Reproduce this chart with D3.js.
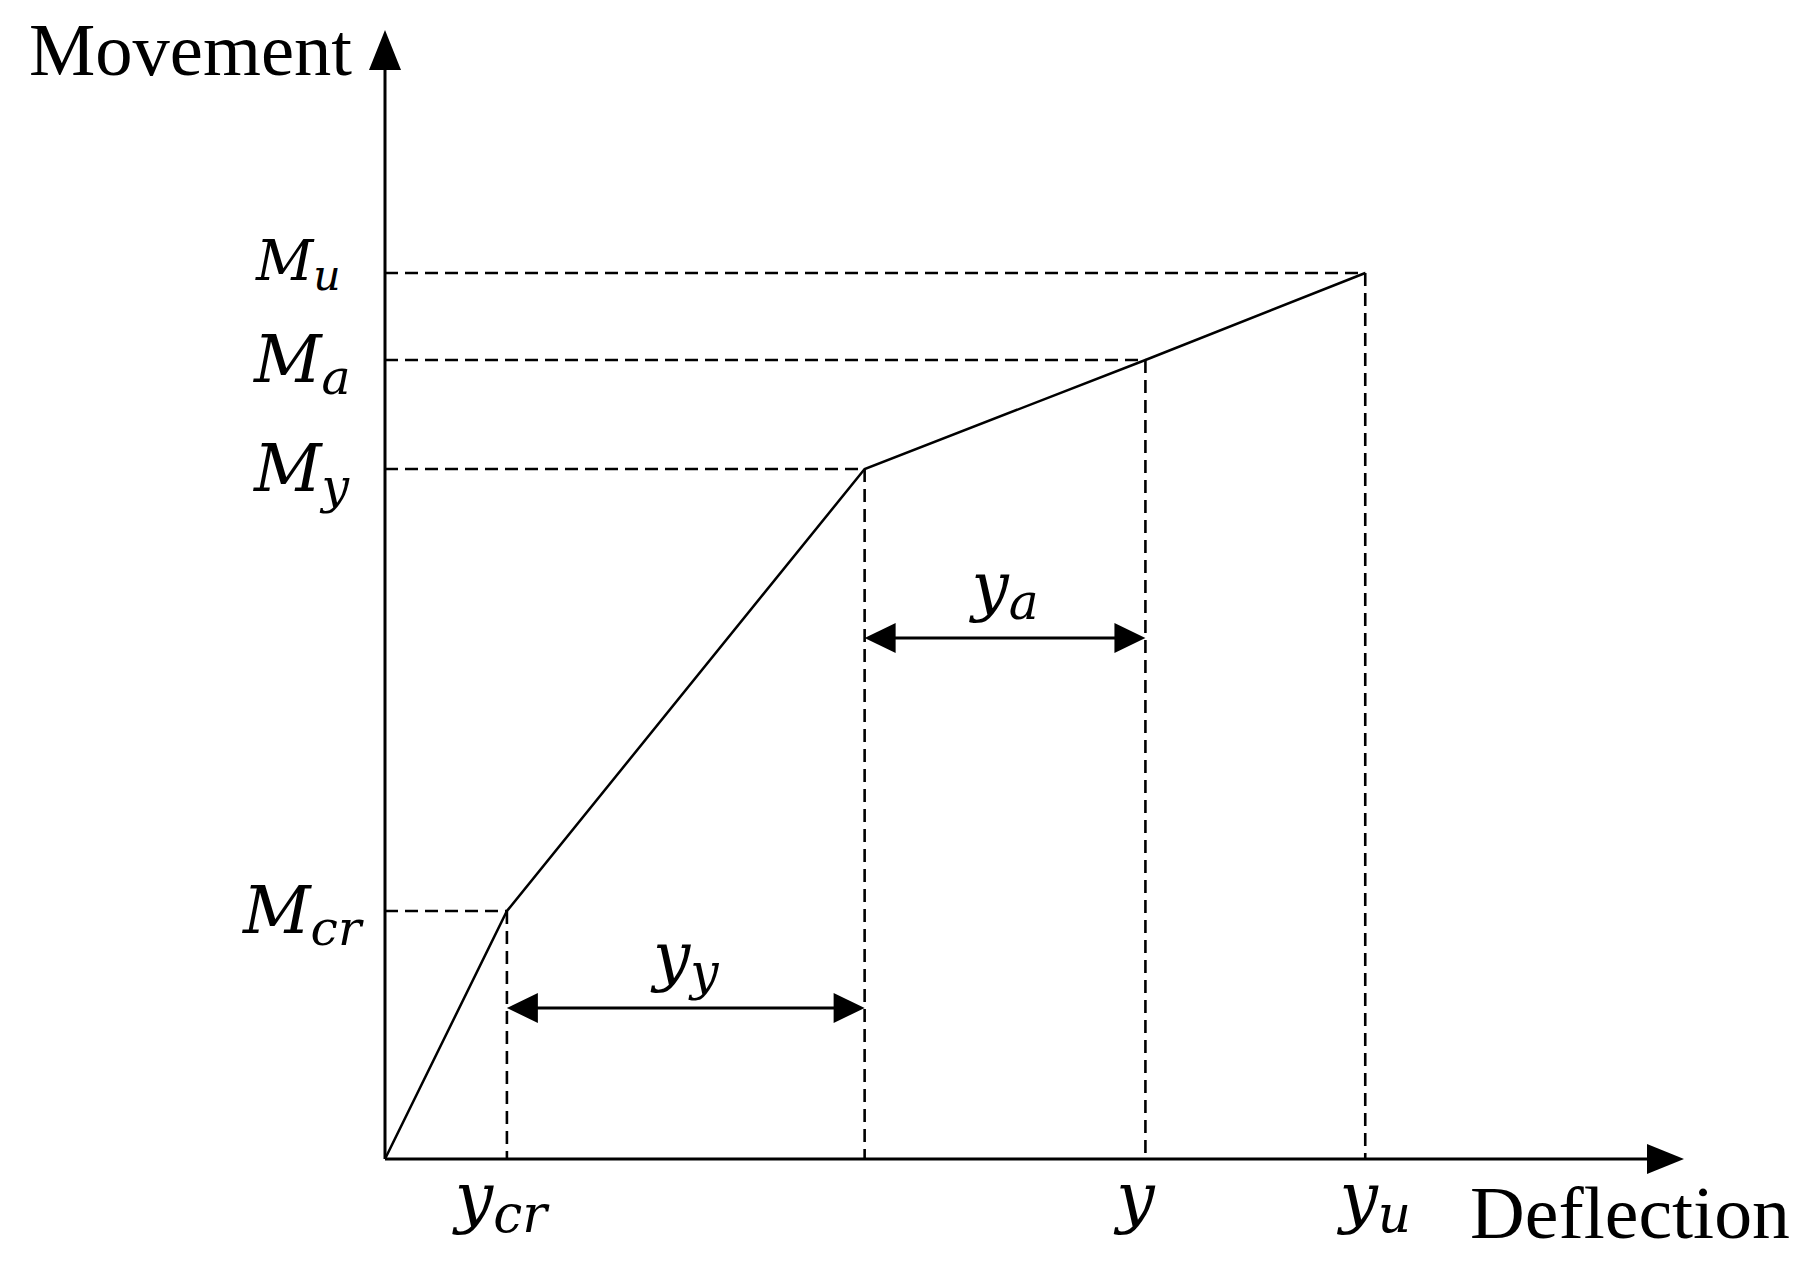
<!DOCTYPE html>
<html>
<head>
<meta charset="utf-8">
<script src="https://cdn.jsdelivr.net/npm/d3@7"></script>
<style>
  html, body { margin: 0; padding: 0; background: #fff; }
  svg { display: block; }
</style>
</head>
<body>
<svg id="chart" width="1815" height="1277"></svg>
<script>
// ---- data (arbitrary units) ----
const pointNames   = ["origin", "cr", "y", "a", "u"];
const deflection   = [0, 12.2, 48.0, 76.1, 98.1];   // x of each knee
const moment       = [0, 24.8, 69.0, 79.9, 88.6];   // y of each knee
const xTickLabels  = [
  { base: "y", sub: "cr", idx: 1 },
  { base: "y", sub: "",   idx: 3 },
  { base: "y", sub: "u",  idx: 4 }
];
const yTickLabels  = [
  { base: "M", sub: "cr", idx: 1 },
  { base: "M", sub: "y",  idx: 2 },
  { base: "M", sub: "a",  idx: 3 },
  { base: "M", sub: "u",  idx: 4 }
];
const spans = [
  { from: 1, to: 2, level: 15.1, base: "y", sub: "y" },
  { from: 2, to: 3, level: 52.1, base: "y", sub: "a" }
];
const axisTitles = { x: "Deflection", y: "Movement" };
const xMax = 130, yMax = 112.9;

// ---- scales ----
const x = d3.scaleLinear().domain([0, xMax]).range([385, 1684]);
const y = d3.scaleLinear().domain([0, yMax]).range([1159, 30]);

const svg = d3.select("#chart");
const mathFont = "'DejaVu Serif', serif";

// dashed guides
const guides = svg.append("g").attr("stroke", "#000").attr("stroke-width", 2.6)
  .attr("stroke-dasharray", "13,7").attr("fill", "none");
for (let i = 1; i < deflection.length; i++) {
  guides.append("line").attr("x1", x(0)).attr("x2", x(deflection[i]))
    .attr("y1", y(moment[i])).attr("y2", y(moment[i]));
  guides.append("line").attr("x1", x(deflection[i])).attr("x2", x(deflection[i]))
    .attr("y1", y(moment[i])).attr("y2", y(0));
}

// curve
const pts = deflection.map((d, i) => [d, moment[i]]);
svg.append("path").datum(pts)
  .attr("d", d3.line().x(d => x(d[0])).y(d => y(d[1])))
  .attr("fill", "none").attr("stroke", "#000").attr("stroke-width", 2.5);

// axes
svg.append("line").attr("x1", x(0)).attr("x2", x(xMax) - 20)
  .attr("y1", y(0)).attr("y2", y(0)).attr("stroke", "#000").attr("stroke-width", 3);
svg.append("line").attr("x1", x(0)).attr("x2", x(0))
  .attr("y1", y(0)).attr("y2", y(yMax) + 20).attr("stroke", "#000").attr("stroke-width", 3);
// arrowheads
const xt = x(xMax), yb = y(0);
svg.append("path").attr("d", `M${xt},${yb} L${xt-37},${yb-15} L${xt-37},${yb+15} Z`).attr("fill", "#000");
const xa = x(0), yt = y(yMax);
svg.append("path").attr("d", `M${xa},${yt} L${xa-16},${yt+40} L${xa+16},${yt+40} Z`).attr("fill", "#000");

// axis titles
svg.append("text").attr("x", 1470).attr("y", 1238)
  .attr("font-family", "'Liberation Serif', 'Times New Roman', serif").attr("font-size", 75)
  .attr("textLength", 320).attr("lengthAdjust", "spacingAndGlyphs")
  .text(axisTitles.x);
svg.append("text").attr("x", 29).attr("y", 75)
  .attr("font-family", "'Liberation Serif', 'Times New Roman', serif").attr("font-size", 75)
  .attr("textLength", 323).attr("lengthAdjust", "spacingAndGlyphs")
  .text(axisTitles.y);

function mathLabel(g, base, sub, size, subRatio, subDrop) {
  const t = g.append("text").attr("font-family", mathFont).attr("font-style", "italic")
    .attr("font-size", size).attr("fill", "#000");
  t.append("tspan").text(base);
  if (sub) t.append("tspan").attr("font-size", size * (subRatio || 0.76))
    .attr("dy", size * (subDrop || 0.2)).text(sub);
  return t;
}

// y labels
yTickLabels.forEach(l => {
  const isU = l.sub === "u";
  const size = isU ? 56 : 66;
  const t = mathLabel(svg, l.base, l.sub, size, isU ? 0.76 : 0.74, 0.18);
  const lx = l.sub === "cr" ? 243 : (isU ? 256 : 254);
  t.attr("x", lx).attr("y", y(moment[l.idx]) + (isU ? 7 : 22));
});

// x labels
xTickLabels.forEach(l => {
  const t = mathLabel(svg, l.base, l.sub, 68, 0.76, 0.17);
  t.attr("text-anchor", "middle").attr("x", x(deflection[l.idx]) + (l.sub === "u" ? 10 : (l.sub === "cr" ? -6 : -10)))
   .attr("y", 1220);
});

// dimension arrows
spans.forEach(s => {
  const x1 = x(deflection[s.from]), x2 = x(deflection[s.to]), yy = y(s.level);
  svg.append("line").attr("x1", x1 + 20).attr("x2", x2 - 20).attr("y1", yy).attr("y2", yy)
    .attr("stroke", "#000").attr("stroke-width", 2.8);
  svg.append("path").attr("d", `M${x1},${yy} L${x1+31},${yy-15} L${x1+31},${yy+15} Z`).attr("fill", "#000");
  svg.append("path").attr("d", `M${x2},${yy} L${x2-31},${yy-15} L${x2-31},${yy+15} Z`).attr("fill", "#000");
  const t = mathLabel(svg, s.base, s.sub, 66, 0.76, 0.16);
  t.attr("text-anchor", "middle").attr("x", (x1 + x2) / 2).attr("y", yy - 30);
});
</script>
</body>
</html>
